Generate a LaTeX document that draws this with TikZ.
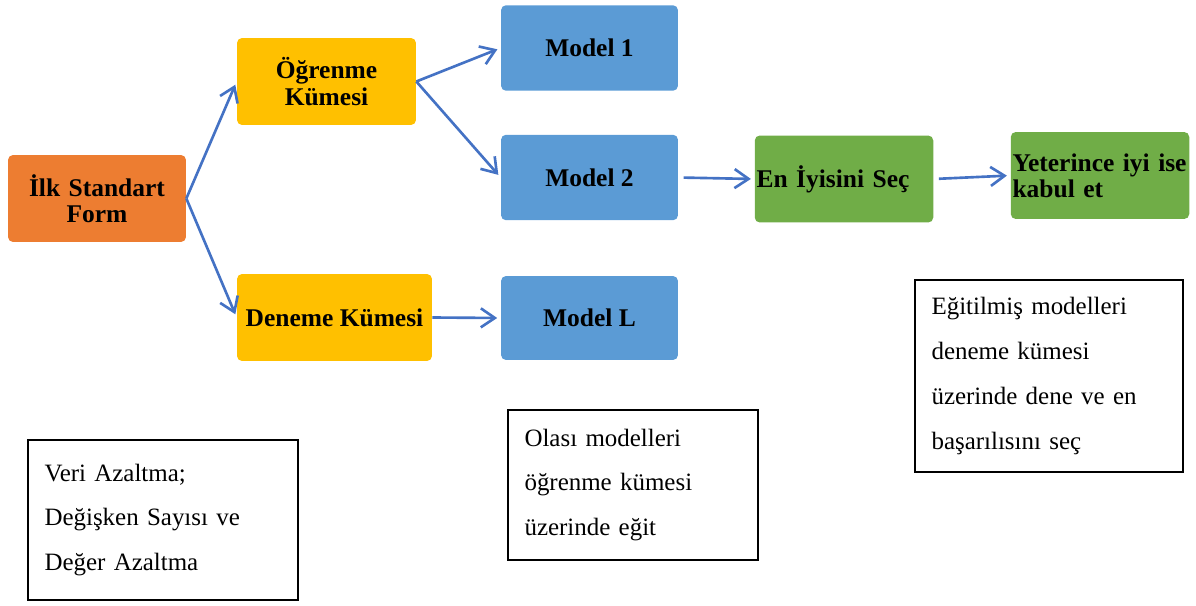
\documentclass[tikz,border=0pt]{standalone}
\usepackage{fontspec}
\setmainfont{Liberation Serif}
\usepackage{xcolor}
\usepackage{tikz}
\usetikzlibrary{arrows.meta}
\definecolor{orangebox}{HTML}{ED7D31}
\definecolor{goldbox}{HTML}{FFC000}
\definecolor{bluebox}{HTML}{5B9BD5}
\definecolor{greenbox}{HTML}{70AD47}
\definecolor{flowline}{HTML}{4472C4}
\tikzset{
  box/.style={rounded corners=0.1cm, inner sep=1pt, minimum height=1.74cm,
    font=\fontsize{14.5}{14.5}\selectfont\bfseries, align=center},
  start/.style={box, fill=orangebox, minimum width=3.56cm, text width=3.4cm},
  set/.style={box, fill=goldbox, minimum width=3.58cm},
  model/.style={box, fill=bluebox, minimum width=3.54cm, minimum height=1.71cm},
  pick/.style={box, fill=greenbox, minimum width=3.56cm, text width=3.5cm, align=left},
  note/.style={draw=black, line width=0.8pt, inner xsep=0.33cm, align=left,
    font=\fontsize{14.2}{25.5}\selectfont},
  flow/.style={draw=flowline, line width=1.5pt,
    -{Straight Barb[length=2.8mm,width=3.8mm]}, shorten >=2pt},
}

\begin{document}
\begin{tikzpicture}[x=0.02cm,y=-0.02cm]
  \useasboundingbox (0,0) rectangle (1196,605);

  \node[start] (ilk) at (97,198.5) {İlk Standart\\[0.5pt]Form};
  \node[set] (ogr) at (326.5,81.5) {Öğrenme\\[0.5pt]Kümesi};
  \node[set, minimum width=3.9cm] (den) at (334.5,317.5) {Deneme Kümesi};

  \node[model] (m1) at (589.5,48) {Model 1};
  \node[model] (m2) at (589.5,177.5) {Model 2};
  \node[model, minimum height=1.68cm] (mL) at (589.5,318) {Model L};

  \node[pick] (best) at (844,179) {En İyisini Seç};
  \node[pick] (yet) at (1100,175.5) {Yeterince iyi ise\\[0.5pt]kabul et};

  % notes under the flow
  \node[note, minimum width=5.4cm, minimum height=3.2cm, text width=4.74cm] (n1) at (163,520)
    {Veri Azaltma;\\Değişken Sayısı ve\\Değer Azaltma};
  \node[note, minimum width=5.0cm, minimum height=3.0cm, text width=4.34cm] (n2) at (633,485)
    {Olası modelleri\\öğrenme kümesi\\üzerinde eğit};
  \node[note, minimum width=5.36cm, minimum height=3.84cm, text width=4.7cm] (n3) at (1049,376)
    {Eğitilmiş modelleri\\deneme kümesi\\üzerinde dene ve en\\başarılısını seç};

  \draw[flow] (ilk.east) -- (ogr.west);
  \draw[flow] (ilk.east) -- (den.west);
  \draw[flow] (ogr.east) -- (m1.west);
  \draw[flow] (ogr.east) -- (m2.west);
  \draw[flow] (den.east) -- (mL.west);
  \draw[flow, shorten <=3pt] (m2.east) -- (best.west);
  \draw[flow, shorten <=3pt] (best.east) -- (yet.west);
\end{tikzpicture}
\end{document}
